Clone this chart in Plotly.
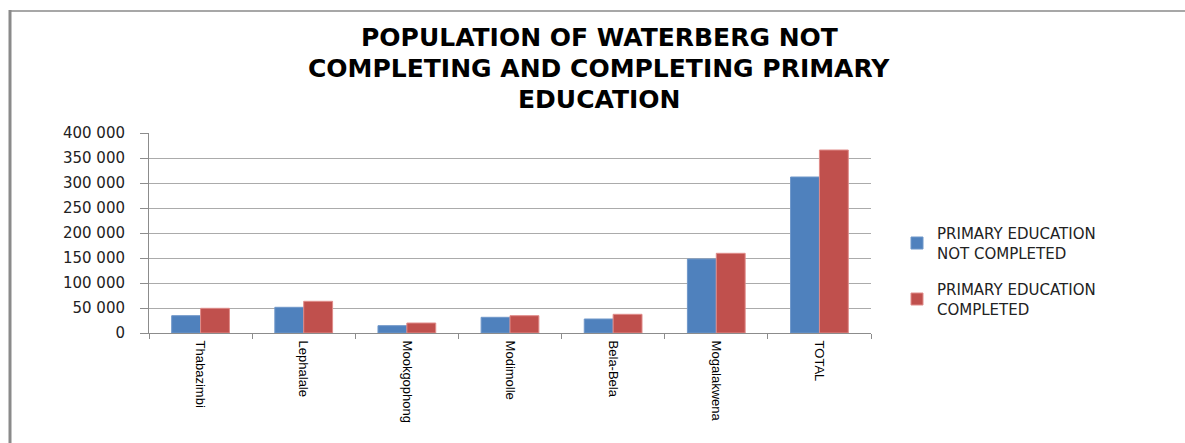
import plotly.graph_objects as go

# Municipalities of Waterberg district and the district total
municipalities = ["Thabazimbi", "Lephalale", "Mookgophong", "Modimolle",
                  "Bela-Bela", "Mogalakwena", "TOTAL"]
not_completed = [34600, 51400, 14600, 31400, 28000, 148000, 312000]
completed = [49400, 63400, 20000, 34600, 37400, 159400, 366000]

series_names = ["PRIMARY EDUCATION<br>NOT COMPLETED",
                "PRIMARY EDUCATION<br>COMPLETED"]
title_lines = ["POPULATION OF WATERBERG NOT",
               "COMPLETING AND COMPLETING PRIMARY",
               "EDUCATION"]

W, H = 1185, 443
L, R, T, B = 149, 314, 133, 110
PW, PH = W - L - R, H - T - B


def px_x(x):
    return (x - L) / PW


def px_y(y):
    return (H - B - y) / PH


fig = go.Figure()
fig.add_trace(go.Bar(x=municipalities, y=not_completed, name=series_names[0],
                     legendgroup="not_completed",
                     marker=dict(color="#4F81BD", line=dict(color="#6f97c9", width=1))))
fig.add_trace(go.Bar(x=municipalities, y=completed, name=series_names[1],
                     legendgroup="completed",
                     marker=dict(color="#C0504D", line=dict(color="#e08c8a", width=1))))

# Title, one annotation per line for tight line spacing
for line, yc in zip(title_lines, [37, 68, 99]):
    fig.add_annotation(text=line, xref="paper", yref="paper",
                       x=px_x(599), y=px_y(yc), xanchor="center", yanchor="middle",
                       showarrow=False,
                       font=dict(family="DejaVu Sans", size=25, color="#000000", weight="bold"))

# Outer frame: left and top edges
fig.add_shape(type="line", xref="paper", yref="paper",
              x0=px_x(10), x1=px_x(10), y0=px_y(10), y1=px_y(H + 5),
              line=dict(color="#8a8a8a", width=3))
fig.add_shape(type="line", xref="paper", yref="paper",
              x0=px_x(9), x1=px_x(W + 5), y0=px_y(11), y1=px_y(11),
              line=dict(color="#8a8a8a", width=1.5))

fig.update_layout(
    width=W, height=H,
    margin=dict(l=L, r=R, t=T, b=B, autoexpand=False),
    paper_bgcolor="white", plot_bgcolor="white",
    barmode="group", bargap=0.44, bargroupgap=0,
    separators=". ",
    showlegend=True,
    legend=dict(x=px_x(897), y=px_y(217), xanchor="left", yanchor="top",
                traceorder="grouped", tracegroupgap=14,
                font=dict(family="DejaVu Sans", size=15, color="#222222"),
                bgcolor="rgba(0,0,0,0)"),
)

fig.update_xaxes(
    type="category", tickangle=90, tickson="boundaries",
    ticks="outside", ticklen=5, tickcolor="#8c8c8c",
    showline=True, linecolor="#8c8c8c", linewidth=1,
    showgrid=False, ticklabelstandoff=4,
    tickfont=dict(family="Liberation Sans", size=13, color="#000000"),
)
fig.update_yaxes(
    range=[0, 400000], dtick=50000, tickformat=",d",
    ticks="outside", ticklen=8, tickcolor="#8c8c8c",
    showline=True, linecolor="#8c8c8c", linewidth=1,
    showgrid=True, gridcolor="#ababab", gridwidth=1,
    zeroline=False, ticklabelstandoff=12,
    tickfont=dict(family="DejaVu Sans", size=15, color="#222222"),
)

fig.write_html("out.html")
